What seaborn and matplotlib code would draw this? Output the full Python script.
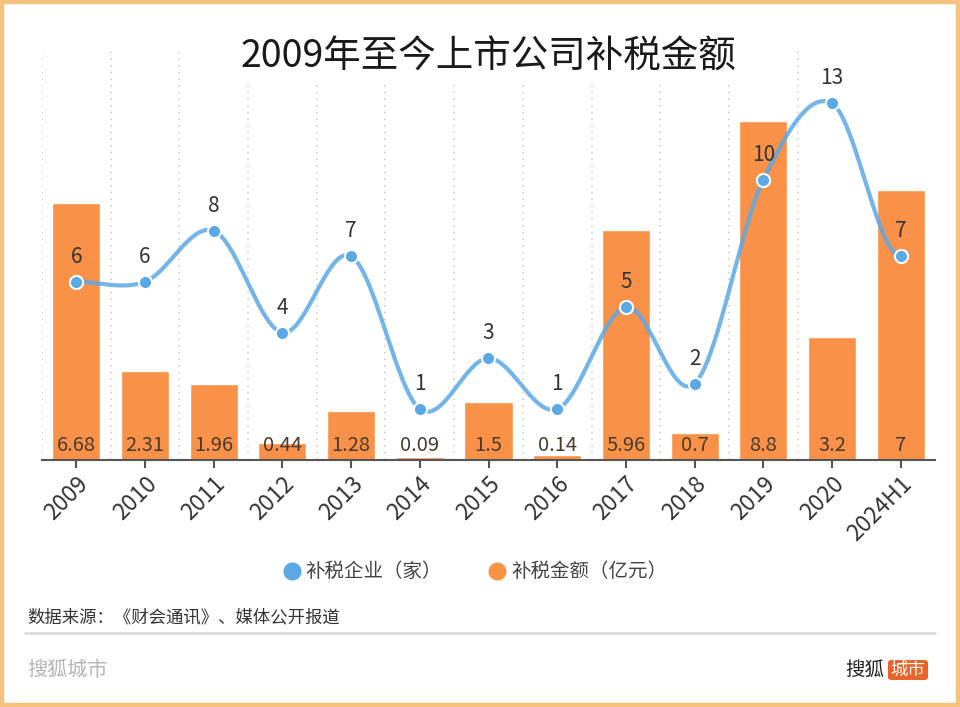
import numpy as np
import pandas as pd
import matplotlib
matplotlib.use("Agg")
import matplotlib.pyplot as plt
from matplotlib.patches import Rectangle, FancyBboxPatch
from matplotlib.lines import Line2D
import seaborn as sns

categories = ["2009", "2010", "2011", "2012", "2013", "2014", "2015", "2016",
              "2017", "2018", "2019", "2020", "2024H1"]
companies = [6, 6, 8, 4, 7, 1, 3, 1, 5, 2, 10, 13, 7]
amounts = [6.68, 2.31, 1.96, 0.44, 1.28, 0.09, 1.5, 0.14, 5.96, 0.7, 8.8, 3.2, 7]
amount_labels = ["6.68", "2.31", "1.96", "0.44", "1.28", "0.09", "1.5", "0.14",
                 "5.96", "0.7", "8.8", "3.2", "7"]

sns.set_theme(style="white")
plt.rcParams['font.family'] = ['Noto Sans CJK SC', 'DejaVu Sans']

BAR = "#FA9148"
BLUE = "#5AA8E6"

W, H = 960, 707
fig = plt.figure(figsize=(W / 100, H / 100), dpi=100)
fig.patch.set_facecolor("white")

def fx(px):
    return px / W

def fy(py):
    return 1 - py / H

left, right, top, bottom = 42, 935, 52, 460
ax = fig.add_axes([fx(left), fy(bottom), fx(right) - fx(left), fy(top) - fy(bottom)])
ax.set_facecolor("none")

df = pd.DataFrame({"cat": categories, "amount": amounts, "companies": companies})
sns.barplot(data=df, x="cat", y="amount", color=BAR, saturation=1, width=0.7,
            ax=ax, zorder=2)
ax.set_xlim(-0.5, len(categories) - 0.5)
ax.set_ylim(0, 10.59)
ax.set_xlabel("")
ax.set_ylabel("")
ax.set_yticks([])
for s in ["top", "right", "left"]:
    ax.spines[s].set_visible(False)
ax.spines["bottom"].set_color("#555555")
ax.spines["bottom"].set_linewidth(1.5)
ax.tick_params(axis="x", which="both", bottom=True, length=6, width=1.5,
               color="#555555", pad=3)
ax.set_xticks(range(len(categories)))
ax.set_xticklabels(categories, rotation=45, ha="right", rotation_mode="anchor",
                   fontsize=16.5, color="#333333")

# vertical dotted gridlines between categories
for i in range(len(categories) - 1):
    ax.axvline(i - 0.5, color="#cfcfcf", linestyle=(0, (1, 3)), linewidth=1.2, zorder=0)

# bar labels at inside bottom
for i, lab in enumerate(amount_labels):
    ax.text(i, 0.37, lab, ha="center", va="center", fontsize=14.5, color="#4a3a2c",
            zorder=5)

# line on twin axis
ax2 = ax.twinx()
ax2.set_ylim(-1.0, 15.02)
ax2.set_yticks([])
for s in ax2.spines.values():
    s.set_visible(False)

x = np.arange(len(companies), dtype=float)
y = np.array(companies, dtype=float)
# Catmull-Rom style smooth curve through data points
m = np.zeros_like(y)
m[1:-1] = (y[2:] - y[:-2]) / 2
xs, ys = [], []
t = np.linspace(0, 1, 40)
h00 = 2 * t**3 - 3 * t**2 + 1
h10 = t**3 - 2 * t**2 + t
h01 = -2 * t**3 + 3 * t**2
h11 = t**3 - t**2
for i in range(len(x) - 1):
    xs.extend(x[i] + t)
    ys.extend(h00 * y[i] + h10 * m[i] + h01 * y[i + 1] + h11 * m[i + 1])
sns.lineplot(x=xs, y=ys, ax=ax2, color=BLUE, linewidth=3, alpha=0.85, zorder=3,
             sort=False, estimator=None)
sns.scatterplot(x=x, y=y, ax=ax2, color=BLUE, s=90, edgecolor="white",
                linewidth=1.5, zorder=4)
for xi, yi in zip(x, y):
    ax2.text(xi, yi + 0.55, str(int(yi)), ha="center", va="bottom", fontsize=15,
             color="#333333", zorder=6)
ax2.set_xlim(-0.5, len(categories) - 0.5)

# title
fig.text(fx(488), fy(57), "2009年至今上市公司补税金额", ha="center", va="center",
         fontsize=27, color="#1a1a1a",
         bbox=dict(facecolor="white", edgecolor="none", pad=4))

# legend
fig.add_artist(Line2D([fx(292)], [fy(571)], transform=fig.transFigure, marker="o",
                      markersize=12, color=BLUE, linestyle="none"))
fig.text(fx(305), fy(571), "补税企业（家）", ha="left", va="center", fontsize=14,
         color="#444444")
fig.add_artist(Line2D([fx(497)], [fy(571)], transform=fig.transFigure, marker="o",
                      markersize=12, color="#F89545", linestyle="none"))
fig.text(fx(511), fy(571), "补税金额（亿元）", ha="left", va="center", fontsize=14,
         color="#444444")

# source
fig.text(fx(27), fy(617), "数据来源：《财会通讯》、媒体公开报道", ha="left", va="center",
         fontsize=12.5, color="#333333")
fig.add_artist(Line2D([fx(25), fx(935)], [fy(633), fy(633)], transform=fig.transFigure,
                      color="#dddddd", linewidth=2))

# footer
fig.text(fx(27), fy(670), "搜狐城市", ha="left", va="center", fontsize=14.5,
         color="#b5b5b5")
fig.text(fx(884), fy(670), "搜狐", ha="right", va="center", fontsize=14,
         color="#222222")
fig.patches.append(FancyBboxPatch((fx(888), fy(680)), fx(40), fy(660) - fy(680),
                                  boxstyle="round,pad=0,rounding_size=0.004",
                                  transform=fig.transFigure, facecolor="#E8642A",
                                  edgecolor="none", figure=fig))
fig.text(fx(908), fy(670), "城市", ha="center", va="center", fontsize=12.5,
         color="white")

# orange frame
fig.patches.append(Rectangle((0, 0), 1, 1, transform=fig.transFigure, fill=False,
                             edgecolor="#F7C27E", linewidth=6, figure=fig))

fig.savefig("out.png", dpi=100)
